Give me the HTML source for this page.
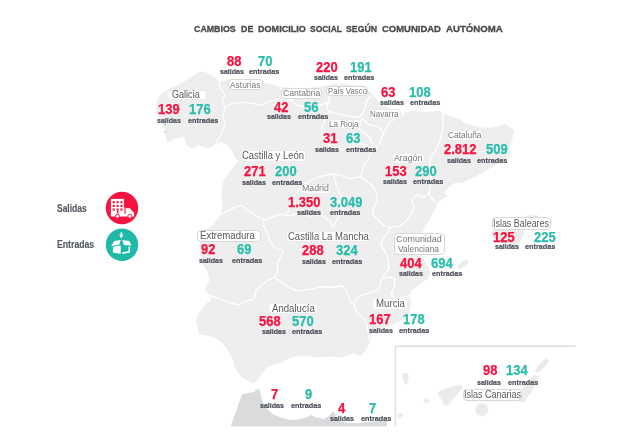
<!DOCTYPE html>
<html lang="es"><head><meta charset="utf-8"><title>Cambios de domicilio social</title>
<style>
html,body{margin:0;padding:0;background:#fff;}
body{width:620px;height:443px;position:relative;overflow:hidden;font-family:"Liberation Sans",sans-serif;}
svg{position:absolute;left:0;top:0;}
.t{position:absolute;white-space:nowrap;line-height:1;}
.title{top:24.2px;font-size:9.8px;font-weight:bold;color:#4b4b4f;-webkit-text-stroke:0.35px currentColor;}
.n{font-size:14.4px;font-weight:bold;transform:scaleX(0.9);transform-origin:0 0;-webkit-text-stroke:0.25px currentColor;}
.r{color:#fa103f}.g{color:#28bcab}
.s{font-size:7.8px;font-weight:bold;color:#4b4f58;-webkit-text-stroke:0.2px currentColor;transform:scaleX(0.906);transform-origin:0 0;}
.c{transform-origin:0 0;}
.l{position:absolute;background:#fff;border-radius:4px;box-sizing:border-box;border:0.8px solid #ebebeb;}
.l.b{border:0.9px solid #d8d8d8;}
.lt{color:#777;font-size:9.1px;}
.lt.big{color:#5a5a5a;font-size:10.4px;}
.lg{font-size:10.1px;font-weight:bold;color:#555a62;-webkit-text-stroke:0.15px currentColor;}
</style></head><body>

<svg width="620" height="443" viewBox="0 0 620 443">
<polygon points="156.8,111.0 157.4,103.0 159.5,96.5 163.5,92.5 170.0,89.0 177.0,85.7 185.0,81.6 192.0,77.0 198.7,72.9 204.0,72.0 209.5,75.0 215.0,77.6 219.0,81.6 225.0,81.0 232.0,80.0 246.0,81.0 261.0,82.0 272.0,85.0 280.6,87.4 296.8,89.0 308.0,88.5 319.0,87.4 329.0,85.0 345.0,84.5 361.0,86.8 369.0,92.0 373.0,95.0 376.0,99.5 381.0,104.0 388.0,108.0 394.0,111.5 400.3,114.0 408.4,112.4 414.8,110.8 424.5,113.2 432.6,111.6 439.0,110.8 442.0,113.0 450.0,116.5 460.0,120.0 467.0,124.5 481.0,128.0 492.0,128.0 500.0,126.0 505.7,124.7 513.8,130.6 512.0,138.0 509.7,146.0 509.0,157.0 498.0,163.0 489.0,168.4 474.0,177.0 463.0,182.0 454.0,182.7 447.4,188.0 443.3,193.5 447.4,196.0 439.2,200.3 436.5,205.7 433.8,211.0 429.8,217.9 425.7,224.7 421.7,232.0 418.5,240.0 419.5,250.0 423.0,259.0 427.5,267.0 430.0,273.5 427.0,279.0 421.6,282.0 413.7,288.0 410.5,292.7 409.5,297.6 410.5,304.0 408.0,315.0 398.0,322.0 386.0,326.0 376.0,329.0 371.0,334.0 369.0,343.5 365.0,350.0 361.0,355.7 357.0,354.0 353.0,353.0 347.6,355.0 342.0,357.0 330.6,356.0 317.0,357.0 307.4,355.0 295.8,356.0 288.0,358.0 282.3,362.0 274.5,363.9 266.8,366.8 261.0,374.5 257.0,380.3 253.2,383.2 247.4,380.3 241.6,376.5 235.8,368.7 234.0,361.0 230.0,353.0 228.3,350.0 222.9,342.8 216.0,338.0 209.4,335.3 204.0,334.7 199.2,333.3 197.9,326.5 196.5,319.8 198.5,314.4 202.6,309.0 206.6,303.5 212.0,300.8 209.4,294.0 205.0,289.0 210.0,281.0 208.0,272.0 203.0,264.0 201.0,255.0 200.0,245.0 201.0,238.0 202.8,231.7 208.0,229.0 213.7,225.0 218.0,219.0 220.5,215.0 222.0,210.0 223.0,207.0 221.8,195.0 223.7,181.5 227.0,176.0 231.0,170.6 235.5,165.0 240.0,161.0 235.5,158.0 232.0,150.0 227.4,144.7 221.0,141.5 214.5,144.7 208.0,148.0 198.4,144.7 192.0,148.0 186.3,144.7 184.7,135.8 175.8,138.0 167.7,142.0 166.0,138.0 166.0,131.0 163.0,126.0 160.0,118.0" fill="#eeeeee" stroke="#eeeeee" stroke-width="1" stroke-linejoin="round"/>
<polygon points="491.0,233.0 495.0,229.0 505.0,227.0 515.0,228.0 521.0,229.5 523.5,232.5 521.5,238.0 519.0,243.0 515.0,246.0 510.0,245.0 504.0,243.0 497.0,240.0 492.0,237.0" fill="#ebebeb" stroke="#ebebeb" stroke-width="1" stroke-linejoin="round"/>
<polygon points="527.0,216.3 537.0,215.5 538.0,218.0 530.0,219.0" fill="#ebebeb" stroke="#ebebeb" stroke-width="1" stroke-linejoin="round"/>
<polygon points="458.0,268.0 460.0,264.0 464.0,261.5 467.4,260.3 467.0,264.0 463.0,267.0 460.0,269.0" fill="#ebebeb" stroke="#ebebeb" stroke-width="1" stroke-linejoin="round"/>
<polygon points="402.7,374.0 405.0,373.0 408.0,374.0 408.0,379.0 406.5,385.0 405.0,383.0 403.0,378.0" fill="#ebebeb" stroke="#ebebeb" stroke-width="1" stroke-linejoin="round"/>
<polygon points="397.6,415.0 402.7,413.0 402.0,417.0 399.0,418.0" fill="#ebebeb" stroke="#ebebeb" stroke-width="1" stroke-linejoin="round"/>
<polygon points="438.0,393.0 446.0,389.0 454.0,386.5 461.0,385.0 462.0,388.0 457.0,394.0 452.0,400.0 448.0,405.0 444.0,404.0 441.0,398.0" fill="#ebebeb" stroke="#ebebeb" stroke-width="1" stroke-linejoin="round"/>
<polygon points="519.0,401.0 520.5,394.0 524.0,387.0 529.0,380.0 533.5,375.5 537.5,376.5 536.0,383.0 532.5,389.0 528.5,395.0 524.0,402.0" fill="#ebebeb" stroke="#ebebeb" stroke-width="1" stroke-linejoin="round"/>
<polygon points="535.5,372.0 538.0,366.0 543.0,361.0 547.0,358.5 548.5,361.0 545.0,366.0 540.0,371.0" fill="#ebebeb" stroke="#ebebeb" stroke-width="1" stroke-linejoin="round"/>
<circle cx="426.5" cy="400.8" r="2.6" fill="#ebebeb"/>
<circle cx="481.7" cy="409.7" r="6.5" fill="#ebebeb"/>
<polygon points="230.6,426.5 242.0,394.4 248.0,393.0 254.8,392.0 255.6,389.5 259.7,389.5 261.3,397.6 263.7,404.0 267.7,409.7 273.4,414.5 281.5,417.7 289.5,420.0 297.6,419.4 305.6,417.7 311.3,415.0 316.0,417.6 324.0,419.0 329.0,416.0 332.5,412.0 334.5,412.0 336.0,417.0 342.0,421.6 348.4,423.0 359.7,423.0 372.6,421.6 387.0,420.8 387.0,426.5" fill="#dadbdd"/>
<polyline points="219.0,81.0 220.0,87.0 225.0,95.0 222.0,101.4 225.0,107.5 223.0,115.6 225.0,123.7 222.0,131.9 218.0,140.0 214.0,147.0" fill="none" stroke="#fff" stroke-width="1.3" stroke-linejoin="round" stroke-linecap="round"/>
<polyline points="225.0,107.5 232.0,103.4 242.5,102.4 252.6,103.4 260.8,105.5 269.0,101.4 275.0,100.4 281.0,97.3 282.0,91.0 280.0,86.5" fill="none" stroke="#fff" stroke-width="1.3" stroke-linejoin="round" stroke-linecap="round"/>
<polyline points="281.0,97.3 291.0,100.0 297.0,105.5 308.0,107.0 318.0,105.5 325.7,103.4 330.0,99.4 327.0,93.0 329.0,86.0" fill="none" stroke="#fff" stroke-width="1.3" stroke-linejoin="round" stroke-linecap="round"/>
<polyline points="330.0,99.4 327.0,105.0 328.0,110.5 336.4,113.5 346.5,115.5 358.7,117.6 362.0,114.5 365.0,108.0 366.0,102.0 371.0,95.5" fill="none" stroke="#fff" stroke-width="1.3" stroke-linejoin="round" stroke-linecap="round"/>
<polyline points="329.0,111.0 325.0,120.0 321.0,130.0 324.0,140.0 331.0,147.0 343.0,149.0 354.0,146.0 362.0,143.5 371.6,149.0 372.0,143.0 369.0,136.9 363.0,132.0 358.7,128.7 361.8,118.6" fill="none" stroke="#fff" stroke-width="1.3" stroke-linejoin="round" stroke-linecap="round"/>
<polyline points="361.8,118.6 369.0,124.7 379.0,126.7 383.0,132.8 381.8,138.0 376.7,148.0 371.6,149.0" fill="none" stroke="#fff" stroke-width="1.3" stroke-linejoin="round" stroke-linecap="round"/>
<polyline points="381.8,138.0 385.0,130.0 389.0,123.0 395.0,118.5 401.4,116.5 404.0,113.5" fill="none" stroke="#fff" stroke-width="1.3" stroke-linejoin="round" stroke-linecap="round"/>
<polyline points="371.6,150.0 368.6,158.4 363.5,166.5 360.5,176.7 365.5,180.8 371.6,184.8 375.7,191.0 377.7,199.0 373.7,208.0 372.6,214.0 378.7,220.3 384.8,226.4 391.0,227.4" fill="none" stroke="#fff" stroke-width="1.3" stroke-linejoin="round" stroke-linecap="round"/>
<polyline points="360.5,176.7 350.0,178.7 338.0,174.7 333.7,174.0 321.5,176.0 311.4,180.0 301.0,186.4 294.0,196.0 290.0,206.0 287.0,215.8 281.0,213.8 272.8,216.9 263.7,220.0" fill="none" stroke="#fff" stroke-width="1.3" stroke-linejoin="round" stroke-linecap="round"/>
<polyline points="333.7,174.0 336.0,184.0 341.0,196.0 344.0,208.0 338.0,218.0 332.7,227.0 329.6,221.0 321.5,214.8 310.0,216.0 298.0,214.0 287.0,215.8" fill="none" stroke="#fff" stroke-width="1.3" stroke-linejoin="round" stroke-linecap="round"/>
<polyline points="220.0,214.8 228.0,210.8 236.0,206.7 242.0,205.7 248.4,210.8 256.5,215.8 263.7,220.0" fill="none" stroke="#fff" stroke-width="1.3" stroke-linejoin="round" stroke-linecap="round"/>
<polyline points="263.7,220.0 263.7,227.0 267.7,233.0 269.7,241.0 275.0,248.0 283.0,251.0 280.0,258.0 277.0,264.4 278.0,270.5 275.0,277.6" fill="none" stroke="#fff" stroke-width="1.3" stroke-linejoin="round" stroke-linecap="round"/>
<polyline points="275.0,277.6 269.0,279.6 261.0,285.7 255.8,290.8 253.8,299.0 246.7,301.0 238.6,305.0 230.5,303.0 222.3,300.0 214.2,296.9 207.0,294.8" fill="none" stroke="#fff" stroke-width="1.3" stroke-linejoin="round" stroke-linecap="round"/>
<polyline points="275.0,277.6 281.0,281.6 289.3,287.7 297.5,290.8 305.6,289.7 313.7,288.7 318.0,287.5 326.0,286.5 334.4,287.5 342.5,285.5 346.5,291.5 350.6,301.7 353.7,304.7" fill="none" stroke="#fff" stroke-width="1.3" stroke-linejoin="round" stroke-linecap="round"/>
<polyline points="353.7,304.7 356.7,311.9 362.8,318.0 366.9,324.0 368.9,336.0 371.0,345.0" fill="none" stroke="#fff" stroke-width="1.3" stroke-linejoin="round" stroke-linecap="round"/>
<polyline points="353.7,304.7 356.7,298.7 362.8,294.6 371.0,292.6 379.0,289.5 381.0,281.4 382.0,278.4" fill="none" stroke="#fff" stroke-width="1.3" stroke-linejoin="round" stroke-linecap="round"/>
<polyline points="391.0,227.4 387.9,232.5 382.8,238.6 380.8,244.7 384.8,250.8 387.9,258.9 388.9,269.0 386.0,273.0 382.0,278.4" fill="none" stroke="#fff" stroke-width="1.3" stroke-linejoin="round" stroke-linecap="round"/>
<polyline points="382.0,278.4 391.0,277.0 395.0,279.4 394.0,287.5 391.0,293.6 395.0,298.7 404.0,297.0 412.0,295.0" fill="none" stroke="#fff" stroke-width="1.3" stroke-linejoin="round" stroke-linecap="round"/>
<polyline points="391.0,227.4 399.0,226.4 404.0,223.0 409.5,216.5 414.2,208.4 412.2,200.0 417.6,194.0 423.0,197.6 429.0,193.5" fill="none" stroke="#fff" stroke-width="1.3" stroke-linejoin="round" stroke-linecap="round"/>
<polyline points="429.0,193.5 431.0,197.6 436.5,203.0 438.0,205.0" fill="none" stroke="#fff" stroke-width="1.3" stroke-linejoin="round" stroke-linecap="round"/>
<polyline points="442.7,113.0 443.0,122.0 442.7,130.0 439.6,142.0 435.6,150.3 430.5,158.4 429.5,166.5 431.0,178.0 430.4,186.8 429.0,193.5" fill="none" stroke="#fff" stroke-width="1.3" stroke-linejoin="round" stroke-linecap="round"/>
<path d="M395.5 426.5V346.3H575.5" fill="none" stroke="#dedede" stroke-width="1.4"/>
<g id="ico-out">
<circle cx="122" cy="208" r="16.2" fill="#f5143f"/>
<rect x="110.9" y="198.9" width="13" height="16.2" fill="#fff"/>
<g fill="#f5143f">
<rect x="112.7" y="201.2" width="2.1" height="2.1"/><rect x="116.6" y="201.2" width="2.1" height="2.1"/><rect x="120.4" y="201.2" width="2.1" height="2.1"/>
<rect x="112.7" y="204.9" width="2.1" height="2.1"/><rect x="116.6" y="204.9" width="2.1" height="2.1"/><rect x="120.4" y="204.9" width="2.1" height="2.1"/>
<rect x="112.7" y="208.5" width="2.1" height="2.1"/><rect x="116.6" y="208.5" width="2.1" height="2.1"/><rect x="120.4" y="208.5" width="2.1" height="2.1"/>
<rect x="116.9" y="210.6" width="1.6" height="3.6"/>
</g>
<path d="M110.9 213.6H126V208.3H130.1L132.1 211.1L134.1 212.4V216.4H110.9Z" fill="#fff"/>
<rect x="124.2" y="207.5" width="1.6" height="6.1" fill="#f9a0b0"/>
<circle cx="117.4" cy="216.2" r="2" fill="#fff" stroke="#f5143f" stroke-width="0.9"/>
<circle cx="129.9" cy="216.2" r="2" fill="#fff" stroke="#f5143f" stroke-width="0.9"/>
</g>
<g id="ico-in">
<circle cx="122" cy="244.7" r="16.2" fill="#1fb9a8"/>
<g fill="#fff">
<path d="M114.2 241L120.7 240L119.2 244.7L111.3 245.9Z"/>
<path d="M122.3 240L129.2 241L131.6 245.5L123.9 244.9Z"/>
<path d="M112.9 246.8L120.7 245.6V254.1L112.9 252.5Z"/>
<path d="M122.3 252.3L128.5 251.3V246.5L130.1 246.7V252.6L122.3 254.1Z"/>
<path d="M120.6 232.3H122V234.4H123.5L121.3 238.5L119.1 234.4H120.6Z"/>
</g>
</g>
<rect x="164.7" y="123.7" width="1" height="1.6" fill="#4db4ee"/>
<rect x="164.5" y="130.8" width="1" height="2.6" fill="#9ad6f4"/>

</svg>
<div class="t title" style="left:194.0px;transform:scaleX(0.9013);transform-origin:0 0">CAMBIOS</div>
<div class="t title" style="left:241.2px;transform:scaleX(0.9028);transform-origin:0 0">DE</div>
<div class="t title" style="left:257.7px;transform:scaleX(0.9264);transform-origin:0 0">DOMICILIO</div>
<div class="t title" style="left:309.8px;transform:scaleX(0.8645);transform-origin:0 0">SOCIAL</div>
<div class="t title" style="left:346.0px;transform:scaleX(0.8897);transform-origin:0 0">SEGÚN</div>
<div class="t title" style="left:382.0px;transform:scaleX(0.9663);transform-origin:0 0">COMUNIDAD</div>
<div class="t title" style="left:445.6px;transform:scaleX(0.9829);transform-origin:0 0">AUTÓNOMA</div>
<div class="t c lg" style="left:56.6px;top:204.2px;transform:scaleX(0.8399);">Salidas</div>
<div class="t c lg" style="left:56.6px;top:240.0px;transform:scaleX(0.8610);">Entradas</div>
<div class="l" style="left:165.5px;top:90.0px;width:41.9px;height:10.3px"></div>
<div class="t c lt big" style="left:172.0px;top:90.1px;transform:scaleX(0.8720);">Galicia</div>
<div class="l b" style="left:228.4px;top:79.4px;width:34.8px;height:10.9px"></div>
<div class="t c lt" style="left:230.3px;top:80.5px;transform:scaleX(0.9252);">Asturias</div>
<div class="l b" style="left:280.6px;top:88.3px;width:41.3px;height:10.5px"></div>
<div class="t c lt" style="left:282.6px;top:89.2px;transform:scaleX(0.9483);">Cantabria</div>
<div class="l b" style="left:326.0px;top:86.0px;width:42.3px;height:10.3px"></div>
<div class="t c lt" style="left:328.0px;top:86.8px;transform:scaleX(0.8604);">País Vasco</div>
<div class="l" style="left:368.3px;top:108.6px;width:32.3px;height:10.9px"></div>
<div class="t c lt" style="left:370.3px;top:109.7px;transform:scaleX(0.8812);">Navarra</div>
<div class="l" style="left:326.8px;top:119.0px;width:32.8px;height:10.3px"></div>
<div class="t c lt" style="left:329.0px;top:119.8px;transform:scaleX(0.8809);">La Rioja</div>
<div class="l" style="left:446.6px;top:130.0px;width:36.4px;height:11.0px"></div>
<div class="t c lt" style="left:448.3px;top:131.1px;transform:scaleX(0.9202);">Cataluña</div>
<div class="l" style="left:392.4px;top:152.8px;width:32.3px;height:11.4px"></div>
<div class="t c lt" style="left:394.4px;top:154.1px;transform:scaleX(0.9649);">Aragón</div>
<div class="l" style="left:240.0px;top:150.0px;width:65.7px;height:11.9px"></div>
<div class="t c lt big" style="left:241.9px;top:150.9px;transform:scaleX(0.9082);">Castilla y León</div>
<div class="l" style="left:300.0px;top:183.5px;width:30.6px;height:10.5px"></div>
<div class="t c lt" style="left:302.0px;top:184.3px;transform:scaleX(0.9641);">Madrid</div>
<div class="l b" style="left:196.9px;top:230.0px;width:63.8px;height:11.9px"></div>
<div class="t c lt big" style="left:200.4px;top:231.0px;transform:scaleX(0.9213);">Extremadura</div>
<div class="l" style="left:285.9px;top:231.4px;width:84.4px;height:10.4px"></div>
<div class="t c lt big" style="left:287.5px;top:231.5px;transform:scaleX(0.9154);">Castilla La Mancha</div>
<div class="l" style="left:268.3px;top:303.2px;width:50.2px;height:11.2px"></div>
<div class="t c lt big" style="left:272.0px;top:303.8px;transform:scaleX(0.9260);">Andalucía</div>
<div class="l" style="left:371.8px;top:298.4px;width:36.2px;height:11.8px"></div>
<div class="t c lt big" style="left:375.5px;top:299.2px;transform:scaleX(0.9299);">Murcia</div>
<div class="l b" style="left:393.8px;top:232.7px;width:50.8px;height:22.5px"></div>
<div class="t c lt" style="left:396.0px;top:234.5px;transform:scaleX(0.9846);">Comunidad</div>
<div class="t c lt" style="left:398.0px;top:245.2px;transform:scaleX(0.9249);">Valenciana</div>
<div class="l b" style="left:491.6px;top:216.9px;width:59.4px;height:13.3px"></div>
<div class="t c lt big" style="left:493.2px;top:218.6px;transform:scaleX(0.8580);">Islas Baleares</div>
<div class="l b" style="left:462.6px;top:389.2px;width:59.7px;height:11.9px"></div>
<div class="t c lt big" style="left:463.5px;top:390.1px;transform:scaleX(0.8672);">Islas Canarias</div>
<div class="t n r" style="left:158.0px;top:102.4px">139</div>
<div class="t n g" style="left:188.5px;top:102.4px">176</div>
<div class="t s" style="left:157.2px;top:116.9px">salidas</div>
<div class="t s" style="left:188.3px;top:116.9px;transform:scaleX(0.93)">entradas</div>
<div class="t n r" style="left:227.0px;top:54.4px">88</div>
<div class="t n g" style="left:258.0px;top:54.4px">70</div>
<div class="t s" style="left:220.1px;top:68.2px">salidas</div>
<div class="t s" style="left:248.5px;top:68.2px;transform:scaleX(0.93)">entradas</div>
<div class="t n r" style="left:273.9px;top:99.5px">42</div>
<div class="t n g" style="left:303.5px;top:99.5px">56</div>
<div class="t s" style="left:266.5px;top:113.3px">salidas</div>
<div class="t s" style="left:297.8px;top:113.3px;transform:scaleX(0.93)">entradas</div>
<div class="t n r" style="left:316.1px;top:60.0px">220</div>
<div class="t n g" style="left:350.4px;top:60.0px">191</div>
<div class="t s" style="left:313.7px;top:73.9px">salidas</div>
<div class="t s" style="left:344.0px;top:73.9px;transform:scaleX(0.93)">entradas</div>
<div class="t n r" style="left:381.4px;top:84.8px">63</div>
<div class="t n g" style="left:408.5px;top:84.8px">108</div>
<div class="t s" style="left:379.5px;top:98.5px">salidas</div>
<div class="t s" style="left:410.3px;top:98.5px;transform:scaleX(0.93)">entradas</div>
<div class="t n r" style="left:322.8px;top:130.8px">31</div>
<div class="t n g" style="left:346.0px;top:130.8px">63</div>
<div class="t s" style="left:314.9px;top:146.4px">salidas</div>
<div class="t s" style="left:345.8px;top:146.4px;transform:scaleX(0.93)">entradas</div>
<div class="t n r" style="left:444.0px;top:142.4px">2.812</div>
<div class="t n g" style="left:485.5px;top:142.4px">509</div>
<div class="t s" style="left:446.5px;top:157.3px">salidas</div>
<div class="t s" style="left:477.4px;top:157.3px;transform:scaleX(0.93)">entradas</div>
<div class="t n r" style="left:384.5px;top:164.0px">153</div>
<div class="t n g" style="left:414.8px;top:164.0px">290</div>
<div class="t s" style="left:382.5px;top:178.4px">salidas</div>
<div class="t s" style="left:413.3px;top:178.4px;transform:scaleX(0.93)">entradas</div>
<div class="t n r" style="left:244.2px;top:164.4px">271</div>
<div class="t n g" style="left:275.4px;top:164.4px">200</div>
<div class="t s" style="left:241.5px;top:178.8px">salidas</div>
<div class="t s" style="left:272.0px;top:178.8px;transform:scaleX(0.93)">entradas</div>
<div class="t n r" style="left:288.4px;top:195.2px">1.350</div>
<div class="t n g" style="left:330.0px;top:195.2px">3.049</div>
<div class="t s" style="left:296.5px;top:209.1px">salidas</div>
<div class="t s" style="left:329.8px;top:209.1px;transform:scaleX(0.93)">entradas</div>
<div class="t n r" style="left:201.1px;top:242.4px">92</div>
<div class="t n g" style="left:237.1px;top:242.4px">69</div>
<div class="t s" style="left:198.9px;top:257.3px">salidas</div>
<div class="t s" style="left:231.9px;top:257.3px;transform:scaleX(0.93)">entradas</div>
<div class="t n r" style="left:302.2px;top:243.0px">288</div>
<div class="t n g" style="left:336.0px;top:243.0px">324</div>
<div class="t s" style="left:301.7px;top:258.3px">salidas</div>
<div class="t s" style="left:332.4px;top:258.3px;transform:scaleX(0.93)">entradas</div>
<div class="t n r" style="left:258.5px;top:314.0px">568</div>
<div class="t n g" style="left:292.3px;top:314.0px">570</div>
<div class="t s" style="left:261.6px;top:328.2px">salidas</div>
<div class="t s" style="left:292.1px;top:328.2px;transform:scaleX(0.93)">entradas</div>
<div class="t n r" style="left:368.5px;top:312.0px">167</div>
<div class="t n g" style="left:402.9px;top:312.0px">178</div>
<div class="t s" style="left:368.8px;top:327.1px">salidas</div>
<div class="t s" style="left:399.3px;top:327.1px;transform:scaleX(0.93)">entradas</div>
<div class="t n r" style="left:399.5px;top:255.6px">404</div>
<div class="t n g" style="left:430.5px;top:255.6px">694</div>
<div class="t s" style="left:399.0px;top:270.4px">salidas</div>
<div class="t s" style="left:431.7px;top:270.4px;transform:scaleX(0.93)">entradas</div>
<div class="t n r" style="left:492.9px;top:230.2px">125</div>
<div class="t n g" style="left:534.2px;top:230.2px">225</div>
<div class="t s" style="left:494.5px;top:243.4px">salidas</div>
<div class="t s" style="left:525.0px;top:243.4px;transform:scaleX(0.93)">entradas</div>
<div class="t n r" style="left:482.6px;top:363.2px">98</div>
<div class="t n g" style="left:505.5px;top:363.2px">134</div>
<div class="t s" style="left:476.6px;top:379.0px">salidas</div>
<div class="t s" style="left:507.5px;top:379.0px;transform:scaleX(0.93)">entradas</div>
<div class="t n r" style="left:270.6px;top:387.3px">7</div>
<div class="t n g" style="left:304.6px;top:387.3px">9</div>
<div class="t s" style="left:260.2px;top:401.6px">salidas</div>
<div class="t s" style="left:290.7px;top:401.6px;transform:scaleX(0.93)">entradas</div>
<div class="t n r" style="left:338.3px;top:400.5px">4</div>
<div class="t n g" style="left:368.5px;top:400.5px">7</div>
<div class="t s" style="left:330.4px;top:415.3px">salidas</div>
<div class="t s" style="left:360.8px;top:415.3px;transform:scaleX(0.93)">entradas</div>
</body></html>
